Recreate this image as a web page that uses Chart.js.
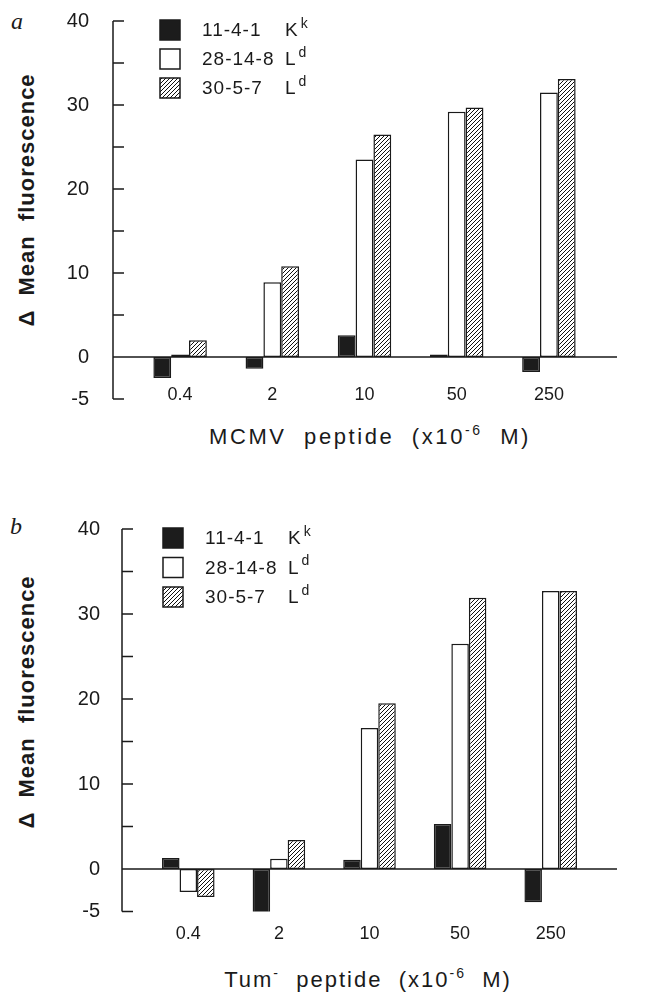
<!DOCTYPE html>
<html>
<head>
<meta charset="utf-8">
<script src="https://cdn.jsdelivr.net/npm/chart.js@4.4.1/dist/chart.umd.min.js"></script>
<style>
  body { margin: 0; background: #fff; width: 656px; height: 996px; position: relative; overflow: hidden;
         font-family: "Liberation Sans", Arial, sans-serif; color: #1a1a1a; }
  canvas { position: absolute; left: 0; }
  .letter { position: absolute; font-family: "Liberation Serif", serif; font-style: italic; font-size: 24px; line-height: 1; }
  .ytitle { position: absolute; font-weight: bold; font-size: 22px; line-height: 1; letter-spacing: 1px; white-space: pre;
            transform: translate(-50%, -50%) rotate(-90deg); }
  .xtitle { position: absolute; font-size: 22px; line-height: 1; letter-spacing: 2px; white-space: pre; transform: translate(-50%, -50%); }
  .xtitle sup { font-size: 14px; vertical-align: 9px; line-height: 0; }
</style>
</head>
<body>

<div class="letter" style="left:11px; top:9px;">a</div>
<div class="letter" style="left:10px; top:514px;">b</div>

<div class="ytitle" style="left:27px; top:200px;">&Delta;  Mean  fluorescence</div>
<div class="ytitle" style="left:27px; top:702px;">&Delta;  Mean  fluorescence</div>

<div class="xtitle" style="left:370px; top:437px; letter-spacing:2.6px;">MCMV  peptide  (x10<sup>-6</sup>  M)</div>
<div class="xtitle" style="left:368px; top:980px;">Tum<sup>-</sup>  peptide  (x10<sup>-6</sup>  M)</div>

<canvas id="chartA" width="656" height="470" style="top:0px;"></canvas>
<canvas id="chartB" width="656" height="526" style="top:470px;"></canvas>

<script>
// categories (peptide concentration, x10^-6 M)
const doses = ['0.4', '2', '10', '50', '250'];

// hybridoma names + allele they recognise
const cloneNames = ['11-4-1', '28-14-8', '30-5-7'];
const alleles = ['K', 'L', 'L'];
const alleleSup = ['k', 'd', 'd'];

// panel a: MCMV peptide
const mcmv_11_4_1 = [-2.5, -1.4, 2.6, 0.3, -1.8];
const mcmv_28_14_8 = [0.3, 8.9, 23.5, 29.2, 31.5];
const mcmv_30_5_7 = [2.0, 10.8, 26.5, 29.7, 33.1];

// panel b: Tum- peptide
const tum_11_4_1 = [1.3, -5.3, 1.1, 5.3, -3.9];
const tum_28_14_8 = [-2.7, 1.2, 16.6, 26.5, 32.7];
const tum_30_5_7 = [-3.3, 3.4, 19.5, 31.9, 32.7];

// y axis
const yMin = -5;
const yMax = 40;
const yLabelled = [40, 30, 20, 10, 0, -5];

const FONT = '"Liberation Sans", Arial, sans-serif';

// hatched fill (///) for the 30-5-7 bars
function makeHatch() {
    const c = document.createElement('canvas');
    c.width = 4;
    c.height = 4;
    const g = c.getContext('2d');
    g.fillStyle = '#fff';
    g.fillRect(0, 0, 4, 4);
    g.strokeStyle = '#111';
    g.lineWidth = 1;
    g.beginPath();
    g.moveTo(0, 4); g.lineTo(4, 0);
    g.moveTo(-1, 1); g.lineTo(1, -1);
    g.moveTo(3, 5); g.lineTo(5, 3);
    g.stroke();
    return g.createPattern(c, 'repeat');
}
const hatch = makeHatch();
const fills = ['#1c1c1c', '#ffffff', hatch];

// y axis line with inside ticks + labels, zero line, and the category labels
const axesPlugin = {
    id: 'axesPlugin',
    afterDatasetsDraw(chart, args, opts) {
        const ctx = chart.ctx;
        const x = chart.scales.x;
        const y = chart.scales.y;
        ctx.save();
        ctx.strokeStyle = '#1a1a1a';
        ctx.lineWidth = 1.5;
        ctx.beginPath();
        ctx.moveTo(opts.axisX, y.getPixelForValue(yMax));
        ctx.lineTo(opts.axisX, y.getPixelForValue(yMin));
        y.ticks.forEach(t => {
            const py = y.getPixelForValue(t.value);
            ctx.moveTo(opts.axisX, py);
            ctx.lineTo(opts.axisX + 11, py);
        });
        // zero line
        const p0 = y.getPixelForValue(0);
        ctx.moveTo(opts.axisX, p0);
        ctx.lineTo(opts.zeroEnd, p0);
        ctx.stroke();

        ctx.fillStyle = '#1a1a1a';
        ctx.textBaseline = 'middle';

        // y tick labels, only every 10 plus the -5 at the bottom
        ctx.font = '20px ' + FONT;
        ctx.textAlign = 'right';
        yLabelled.forEach(v => {
            ctx.fillText(String(v), opts.yLabelRight, y.getPixelForValue(v));
        });

        // dose labels under each group
        ctx.font = '18px ' + FONT;
        ctx.textAlign = 'center';
        doses.forEach((d, i) => {
            ctx.fillText(d, x.getPixelForTick(i), opts.labelY);
        });
        ctx.restore();
    }
};

// legend box in the top left corner
const legendPlugin = {
    id: 'legendPlugin',
    afterDraw(chart, args, opts) {
        const ctx = chart.ctx;
        ctx.save();
        ctx.textBaseline = 'middle';
        chart.data.datasets.forEach((ds, i) => {
            const cy = opts.y + i * opts.gap;
            // swatch
            ctx.fillStyle = ds.backgroundColor;
            ctx.fillRect(opts.x, cy - 10, 20, 20);
            ctx.strokeStyle = '#1a1a1a';
            ctx.lineWidth = 1.5;
            ctx.strokeRect(opts.x, cy - 10, 20, 20);
            // text
            ctx.fillStyle = '#1a1a1a';
            ctx.font = '19px ' + FONT;
            if ('letterSpacing' in ctx) ctx.letterSpacing = '1px';
            ctx.fillText(ds.label, opts.x + 42, cy + 1);
            ctx.fillText(alleles[i], opts.x + 125, cy + 1);
            const w = ctx.measureText(alleles[i]).width;
            ctx.font = '14px ' + FONT;
            ctx.fillText(alleleSup[i], opts.x + 127 + w, cy - 6);
        });
        ctx.restore();
    }
};

function makePanel(id, values, layout) {
    const datasets = values.map((vals, i) => ({
        label: cloneNames[i],
        data: vals,
        backgroundColor: fills[i],
        borderColor: '#1a1a1a',
        borderWidth: 1.5,
        borderSkipped: false,
        barPercentage: 1.0,
        categoryPercentage: 0.58
    }));

    return new Chart(document.getElementById(id).getContext('2d'), {
        type: 'bar',
        data: { labels: doses, datasets: datasets },
        options: {
            responsive: false,
            animation: false,
            layout: { padding: { left: 0, right: layout.right, top: layout.top, bottom: 0 } },
            plugins: {
                legend: { display: false },
                tooltip: { enabled: false },
                axesPlugin: { axisX: layout.axisX, zeroEnd: 617, labelY: layout.labelY, yLabelRight: layout.yLabelRight },
                legendPlugin: { x: layout.legX, y: layout.legY, gap: layout.legGap }
            },
            scales: {
                x: {
                    grid: { display: false },
                    border: { display: false },
                    ticks: { display: false },
                    afterFit(s) { s.height = layout.xH; }
                },
                y: {
                    min: yMin,
                    max: yMax,
                    grid: { display: false },
                    border: { display: false },
                    ticks: { display: false, stepSize: 5 },
                    afterFit(s) { s.width = layout.yW; }
                }
            }
        },
        plugins: [axesPlugin, legendPlugin]
    });
}

makePanel('chartA', [mcmv_11_4_1, mcmv_28_14_8, mcmv_30_5_7], {
    top: 21, right: 61, xH: 71, yW: 134, yLabelRight: 89, labelY: 395,
    axisX: 113, legX: 160, legY: 30, legGap: 29
});

makePanel('chartB', [tum_11_4_1, tum_28_14_8, tum_30_5_7], {
    top: 59, right: 60, xH: 84.5, yW: 143, yLabelRight: 100, labelY: 464,
    axisX: 122, legX: 163, legY: 68, legGap: 29.5
});
</script>
</body>
</html>
